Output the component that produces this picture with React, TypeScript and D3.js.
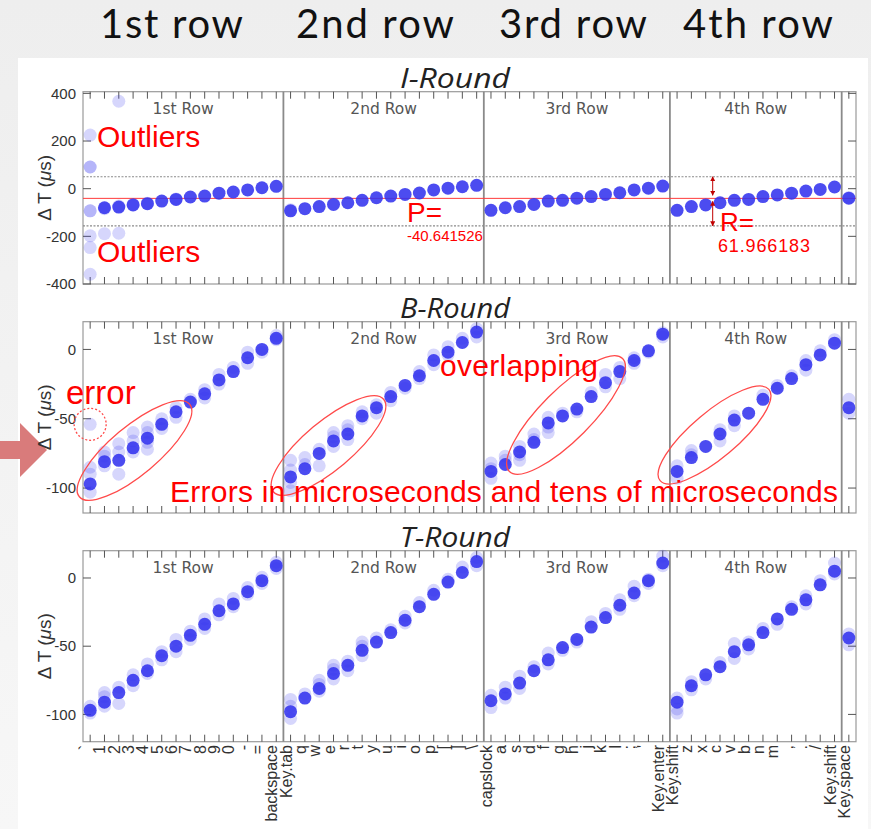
import React from 'react';
import * as d3 from 'd3';

// Keyboard keys along the x axis, grouped by keyboard row
const keyLabels = [
  '`', '1', '2', '3', '4', '5', '6', '7', '8', '9', '0', '-', '=', 'backspace',
  'Key.tab', 'q', 'w', 'e', 'r', 't', 'y', 'u', 'i', 'o', 'p', '[', ']', '\\',
  'capslock', 'a', 's', 'd', 'f', 'g', 'h', 'j', 'k', 'l', ';', "'", 'Key.enter',
  'Key.shift', 'z', 'x', 'c', 'v', 'b', 'n', 'm', ',', '.', '/', 'Key.shift',
  'Key.space',
];
const rowNames = ['1st Row', '2nd Row', '3rd Row', '4th Row', ''];
const rowSizes = [14, 14, 13, 12, 1];
const headerLabels = ['1st row', '2nd row', '3rd row', '4th row'];

// I-Round: typical ΔT per key (µs) and scattered repeats
const iMain = [
  NaN, -80, -77, -68, -63, -52, -45, -35, -31, -19, -14, -5, 4, 10,
  -93, -84, -75, -66, -59, -49, -38, -31, -24, -18, -5, 2, 8, 14,
  -91, -80, -75, -66, -52, -49, -40, -33, -24, -17, -5, 2, 11,
  -91, -75, -68, -59, -49, -45, -33, -26, -19, -10, -3, 7,
  -40,
];
const iSpread = [
  [225, 91, 91, -93, -93, -198, -247, -359], [-189, -84], [367, -187, -73], [-66], [-61], [], [-43], [], [], [], [], [], [], [],
  [-88], [], [], [], [], [], [], [], [], [], [], [], [], [],
  [], [], [], [], [], [], [], [], [], [], [], [], [],
  [], [], [], [], [], [], [], [], [], [], [], [],
  [-37],
];

// B-Round
const bMain = [
  -97, -81, -80, -71, -64, -54, -45, -38, -32, -22, -16, -6, 0, 8,
  -92, -86, -75, -66, -61, -48, -42, -34, -26, -19, -8, -2, 5, 12.5,
  -88, -83, -74, -67, -53, -48, -43, -34, -24, -16, -8, -1, 11,
  -88, -78, -70, -61, -51, -46, -36, -28, -21, -11, -4, 4.5,
  -42,
];
const bSpread = [
  [-54, -85, -90, -103], [-74, -77, -84], [-68, -74, -90], [-60, -66, -74], [-56, -60, -67, -72], [-50, -57], [-42, -49], [-36], [-29, -35], [-18, -25], [-13], [-2, -10], [-2], [10, 7],
  [-80, -87, -96, -102], [-78, -83], [-72, -84], [-60, -63, -70], [-55, -58, -65], [-45, -50], [-40, -46], [-31, -37], [-28], [-16, -21], [-4, -11], [2, -4], [8], [15, 9],
  [-82, -86, -93], [-77, -80], [-70, -76, -80], [-61, -65], [-49, -56, -60], [-46], [-45], [-31], [-18, -27], [-13, -21], [-6, -10], [-2], [9, 12],
  [-84, -93], [-73, -76], [], [-58, -66], [-48, -55], [], [-33], [-26], [-19], [-8, -15], [-1], [7],
  [-36, -46],
];

// T-Round
const tMain = [
  -97, -91, -84, -75, -68, -57, -50, -42, -34, -24, -19, -10, -2, 9,
  -98, -88, -81, -70, -64, -53, -47, -40, -31, -21, -12, -3, 4, 12,
  -90, -85, -77, -68, -60, -51, -45, -36, -29, -20, -11, -2, 11,
  -91, -79, -71, -65, -54, -49, -40, -30, -23, -16, -5, 5,
  -44,
];
const tSpread = [
  [-94, -99], [-84, -87, -94], [-80, -92], [-71, -79], [-63, -70], [-54, -60], [-45, -54], [-39, -45], [-30, -37], [-19, -27], [-15, -21], [-7, -12], [0.5, -4], [11.5, 7],
  [-89, -94, -103], [-85], [-75, -78, -83], [-64, -67, -74], [-61, -68], [-47, -50, -57], [-44], [-38], [-28, -33], [-18], [-9], [-1], [8], [15, 9],
  [-86, -95], [-80, -88], [-72, -81], [-65], [-55, -63], [-53], [-47], [-32], [-26], [-16, -23], [-6, -13], [-1, -4], [16, 9],
  [-88, -96, -99], [-76, -82], [-74], [-62], [-48, -59], [-47, -52], [-37], [-34], [-21], [-13, -19], [-2], [11, 3],
  [-41, -49],
];

// I-Round reference levels
const pValue = -40.641526;
const rValue = 61.966183;
const outlierBounds = [50, -156];

const W = 871;
const H = 829;
const plotLeft = 83;
const plotRight = 856;

const panels = [
  { title: 'I-Round', top: 91.7, bottom: 284, domain: [-400, 407], ticks: [-400, -200, 0, 200, 400], main: iMain, spread: iSpread },
  { title: 'B-Round', top: 321.7, bottom: 513, domain: [-118, 20], ticks: [-100, -50, 0], main: bMain, spread: bSpread },
  { title: 'T-Round', top: 550.7, bottom: 741.7, domain: [-120, 20], ticks: [-100, -50, 0], main: tMain, spread: tSpread },
];

const dotColor = '#3333ee';
const annot = '#ff0000';

export default function App() {
  const x = d3.scaleBand<number>().domain(d3.range(keyLabels.length)).range([plotLeft, plotRight]).padding(0);
  const bw = x.bandwidth();
  const cx = (i: number) => (x(i) as number) + bw / 2;
  const rowStarts = d3.cumsum([0, ...rowSizes]);

  return (
    <svg width={W} height={H} style={{ position: 'absolute', left: 0, top: 0 }} fontFamily="'Liberation Sans', Arial, sans-serif">
      <defs>
        <marker id="ahead" viewBox="0 0 10 10" refX="9" refY="5" markerWidth="5" markerHeight="5" orient="auto-start-reverse">
          <path d="M0,0 L10,5 L0,10 z" fill="#c00000" />
        </marker>
        <linearGradient id="bg" x1="0" y1="0" x2="0" y2="1">
          <stop offset="0" stopColor="#eeeeee" />
          <stop offset="1" stopColor="#f7f7f7" />
        </linearGradient>
      </defs>
      <rect x={0} y={0} width={W} height={H} fill="url(#bg)" />
      <rect x={18} y={58} width={850} height={H - 58} fill="#ffffff" />

      {/* header */}
      {headerLabels.map((t, i) => {
        const xs = [100, 296, 499, 683];
        const ws = [143, 158, 148, 150];
        return (
          <text key={t} x={xs[i]} y={38} fontFamily="Lato, 'Open Sans', sans-serif" fontSize={40} fill="#111" textLength={ws[i]} lengthAdjust="spacing">
            {t}
          </text>
        );
      })}

      {/* pointer arrow at the left */}
      <polygon points="0,441 20,441 20,423 47,450 20,477 20,459 0,459" fill="#d97b7b" />

      {panels.map((p, pi) => {
        const y = d3.scaleLinear().domain(p.domain).range([p.bottom, p.top]);
        const cy = (p.top + p.bottom) / 2;
        return (
          <g key={p.title}>
            <text x={455} y={p.top - 4} textAnchor="middle" fontFamily="'Open Sans', sans-serif" fontStyle="italic" fontSize={27} fill="#222" textLength={110} lengthAdjust="spacingAndGlyphs">
              {p.title}
            </text>
            <rect x={plotLeft} y={p.top} width={plotRight - plotLeft} height={p.bottom - p.top} fill="#fff" stroke="#9a9a9a" strokeWidth={1.2} />

            {/* facet dividers and row labels */}
            {rowSizes.map((n, r) => {
              const x0 = x(rowStarts[r]) as number;
              const x1 = r === rowSizes.length - 1 ? plotRight : (x(rowStarts[r + 1]) as number);
              return (
                <g key={r}>
                  {r > 0 && <line x1={x0} x2={x0} y1={p.top} y2={p.bottom} stroke="#8a8a8a" strokeWidth={1.8} />}
                  {rowNames[r] && (
                    <text x={(x0 + x1) / 2} y={p.top + 22} textAnchor="middle" fontFamily="'DejaVu Sans', sans-serif" fontSize={15.5} fill="#555">
                      {rowNames[r]}
                    </text>
                  )}
                </g>
              );
            })}

            {/* key ticks top and bottom */}
            {keyLabels.map((_, i) => (
              <g key={i} stroke="#555" strokeWidth={1}>
                <line x1={cx(i)} x2={cx(i)} y1={p.top} y2={p.top + 7} />
                <line x1={cx(i)} x2={cx(i)} y1={p.bottom} y2={p.bottom - 7} />
              </g>
            ))}

            {/* y axis */}
            {p.ticks.map((t) => (
              <g key={t}>
                <line x1={plotLeft} x2={plotLeft + 8} y1={y(t)} y2={y(t)} stroke="#555" />
                <line x1={plotRight - 8} x2={plotRight} y1={y(t)} y2={y(t)} stroke="#555" />
                <text x={plotLeft - 7} y={y(t)} dy="0.35em" textAnchor="end" fontSize={15} fill="#333">
                  {t}
                </text>
              </g>
            ))}
            <text transform={`translate(51,${cy}) rotate(-90)`} textAnchor="middle" fontSize={19} fill="#333">
              {'Δ T ('}
              <tspan fontStyle="italic">μ</tspan>
              {'s)'}
            </text>

            {/* reference levels (I-Round) */}
            {pi === 0 && (
              <g>
                {outlierBounds.map((b) => (
                  <line key={b} x1={plotLeft} x2={plotRight} y1={y(b)} y2={y(b)} stroke="#8a8a8a" strokeWidth={1.2} strokeDasharray="2,1.5" />
                ))}
                <line x1={plotLeft} x2={plotRight} y1={y(pValue)} y2={y(pValue)} stroke="#ff3a3a" strokeWidth={1} />
              </g>
            )}

            {/* measurements */}
            {p.spread.map((vals, i) =>
              vals.map((v, j) => <circle key={`s${i}-${j}`} cx={cx(i)} cy={y(v)} r={6.5} fill={dotColor} fillOpacity={0.2} />)
            )}
            {p.main.map((v, i) =>
              Number.isFinite(v) ? <circle key={`m${i}`} cx={cx(i)} cy={y(v)} r={6.5} fill={dotColor} fillOpacity={0.88} /> : null
            )}

            {pi === 0 && (
              <g fill={annot}>
                <text x={97} y={147} fontSize={30}>Outliers</text>
                <text x={97} y={262} fontSize={30}>Outliers</text>
                <text x={407} y={222} fontSize={28}>P=</text>
                <text x={407} y={241} fontSize={15}>{pValue.toFixed(6)}</text>
                <text x={720} y={231} fontSize={26}>R=</text>
                <text x={718} y={252} fontSize={18} textLength={92} lengthAdjust="spacing">{rValue.toFixed(6)}</text>
                <line x1={712.7} x2={712.7} y1={y(outlierBounds[0])} y2={y(pValue) - 3} stroke="#c00000" strokeWidth={1} markerStart="url(#ahead)" markerEnd="url(#ahead)" />
                <line x1={712.7} x2={712.7} y1={y(pValue) + 3} y2={y(outlierBounds[1])} stroke="#c00000" strokeWidth={1} markerStart="url(#ahead)" markerEnd="url(#ahead)" />
              </g>
            )}

            {pi === 1 && (
              <g>
                <g fill="none" stroke="#ff4a4a" strokeWidth={1.3}>
                  <ellipse cx={134.5} cy={450.5} rx={72} ry={24} transform="rotate(-40 134.5 450.5)" />
                  <ellipse cx={328.5} cy={445.5} rx={72} ry={24} transform="rotate(-40 328.5 445.5)" />
                  <ellipse cx={566} cy={415} rx={80} ry={25} transform="rotate(-45 566 415)" />
                  <ellipse cx={714.5} cy={435} rx={71} ry={23} transform="rotate(-40 714.5 435)" />
                  <circle cx={cx(0)} cy={y(bSpread[0][0])} r={16} strokeDasharray="2,2" />
                </g>
                <g fill={annot}>
                  <text x={66} y={404} fontSize={33}>error</text>
                  <text x={440} y={376} fontSize={30} textLength={158} lengthAdjust="spacing">overlapping</text>
                  <text x={170} y={502} fontSize={30} textLength={668} lengthAdjust="spacing">Errors in microseconds and tens of microseconds</text>
                </g>
              </g>
            )}

            {/* key labels under the last panel */}
            {pi === panels.length - 1 &&
              keyLabels.map((k, i) => (
                <text key={`l${i}`} transform={`translate(${cx(i) + 1},745) rotate(-90)`} textAnchor="end" fontSize={16} fill="#333">
                  {k}
                </text>
              ))}
          </g>
        );
      })}
    </svg>
  );
}
